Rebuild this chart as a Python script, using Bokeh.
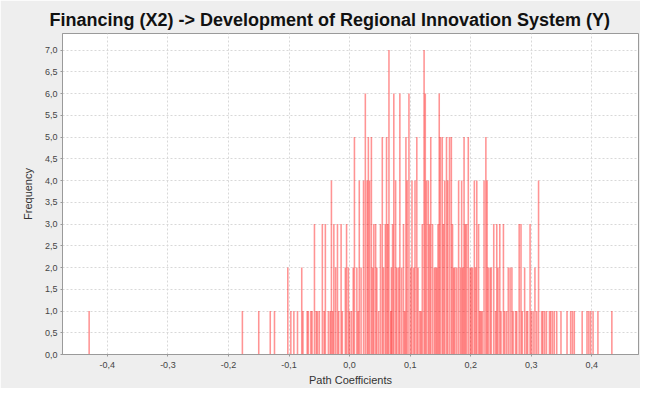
from bokeh.plotting import figure
from bokeh.models import ColumnDataSource, FixedTicker, CustomJSTickFormatter
from bokeh.embed import file_html
from bokeh.resources import INLINE

title_text = "Financing (X2) -> Development of Regional Innovation System (Y)"
x_label = "Path Coefficients"
y_label = "Frequency"

coefficients = [
    -0.430, -0.177, -0.150, -0.131, -0.124, -0.102, -0.097, -0.092, -0.086, -0.079,
    -0.077, -0.070, -0.068, -0.064, -0.062, -0.058, -0.055, -0.053, -0.050, -0.045,
    -0.042, -0.040, -0.035, -0.032, -0.030, -0.028, -0.026, -0.023, -0.020, -0.018,
    -0.014, -0.012, -0.007, -0.005, -0.002, 0.000, 0.003, 0.006, 0.008, 0.012,
    0.014, 0.016, 0.019, 0.023, 0.026, 0.029, 0.031, 0.033, 0.036, 0.038,
    0.040, 0.043, 0.045, 0.048, 0.051, 0.054, 0.056, 0.059, 0.061, 0.063,
    0.065, 0.068, 0.069, 0.071, 0.073, 0.076, 0.078, 0.081, 0.083, 0.086,
    0.089, 0.091, 0.093, 0.095, 0.098, 0.101, 0.103, 0.106, 0.108, 0.111,
    0.113, 0.116, 0.118, 0.120, 0.123, 0.125, 0.127, 0.130, 0.132, 0.134,
    0.137, 0.140, 0.142, 0.144, 0.146, 0.148, 0.150, 0.153, 0.155, 0.157,
    0.160, 0.162, 0.165, 0.168, 0.170, 0.172, 0.174, 0.177, 0.180, 0.183,
    0.185, 0.187, 0.189, 0.191, 0.193, 0.196, 0.199, 0.201, 0.203, 0.206,
    0.208, 0.210, 0.213, 0.215, 0.217, 0.219, 0.222, 0.225, 0.227, 0.229,
    0.232, 0.234, 0.238, 0.241, 0.243, 0.245, 0.248, 0.250, 0.254, 0.256,
    0.259, 0.262, 0.265, 0.268, 0.270, 0.274, 0.276, 0.280, 0.283, 0.285,
    0.289, 0.292, 0.294, 0.298, 0.300, 0.303, 0.306, 0.309, 0.312, 0.317,
    0.319, 0.322, 0.325, 0.330, 0.332, 0.335, 0.338, 0.342, 0.349, 0.359,
    0.365, 0.368, 0.371, 0.384, 0.392, 0.395, 0.398, 0.402, 0.410, 0.433,
]

frequency = [
    1, 1, 1, 1, 1, 2, 1, 1, 1, 2,
    1, 1, 1, 1, 1, 3, 1, 1, 1, 3,
    1, 3, 1, 1, 4, 1, 3, 2, 3, 1,
    3, 1, 2, 3, 2, 1, 1, 2, 5, 2,
    1, 4, 2, 4, 6, 4, 5, 4, 5, 2,
    3, 3, 2, 1, 3, 5, 2, 3, 5, 3,
    7, 1, 2, 3, 6, 4, 2, 2, 6, 2,
    3, 1, 5, 4, 6, 2, 4, 2, 4, 5,
    2, 1, 1, 3, 7, 6, 4, 4, 3, 5,
    3, 2, 2, 2, 3, 6, 5, 5, 3, 4,
    5, 4, 5, 5, 3, 2, 2, 2, 4, 2,
    4, 2, 5, 3, 3, 5, 2, 2, 2, 4,
    2, 4, 3, 1, 1, 1, 4, 5, 4, 2,
    2, 2, 3, 1, 3, 2, 3, 1, 3, 1,
    1, 2, 2, 2, 1, 1, 1, 3, 3, 1,
    2, 1, 1, 3, 1, 1, 2, 1, 4, 1,
    1, 1, 1, 1, 1, 1, 1, 1, 1, 1,
    1, 1, 1, 1, 1, 1, 1, 1, 1, 1,
]

x_ticks = [-0.4, -0.3, -0.2, -0.1, 0.0, 0.1, 0.2, 0.3, 0.4]
y_ticks = [0.0, 0.5, 1.0, 1.5, 2.0, 2.5, 3.0, 3.5, 4.0, 4.5, 5.0, 5.5, 6.0, 6.5, 7.0]

source = ColumnDataSource(data=dict(x=coefficients, top=frequency))

p = figure(
    width=640, height=388,
    output_backend="svg", toolbar_location=None,
    x_range=(-0.474, 0.477), y_range=(0, 7.38),
    background_fill_color="white", border_fill_color="#eeeeee",
    min_border_left=62, min_border_right=2, min_border_top=33, min_border_bottom=30,
)
p.outline_line_color = "#9a9a9a"
p.outline_line_width = 1

p.vbar(x="x", top="top", bottom=0, width=0.0026, source=source,
       fill_color="#ff0000", fill_alpha=0.42, line_color=None)

label_font = "Liberation Sans"
for ax in (p.xaxis[0], p.yaxis[0]):
    ax.axis_line_color = "#9a9a9a"
    ax.major_tick_line_color = "#9a9a9a"
    ax.minor_tick_line_color = None
    ax.major_tick_in = 0
    ax.major_tick_out = 2
    ax.major_label_text_font = label_font
    ax.major_label_text_font_size = "9px"
    ax.major_label_text_color = "#444444"
    ax.axis_label_text_font = label_font
    ax.axis_label_text_font_size = "11px"
    ax.axis_label_text_font_style = "normal"
    ax.axis_label_text_color = "#333333"

p.xaxis.ticker = FixedTicker(ticks=x_ticks)
p.yaxis.ticker = FixedTicker(ticks=y_ticks)
fmt = CustomJSTickFormatter(code="return tick.toFixed(1).replace('.', ',');")
p.xaxis.formatter = fmt
p.yaxis.formatter = fmt
p.xaxis.axis_label = x_label
p.yaxis.axis_label = y_label
p.xaxis.major_label_standoff = 5
p.yaxis.major_label_standoff = 3
p.xaxis.axis_label_standoff = 3
p.yaxis.axis_label_standoff = 8

p.xgrid.ticker = FixedTicker(ticks=x_ticks)
p.ygrid.ticker = FixedTicker(ticks=y_ticks)
for g in (p.xgrid[0], p.ygrid[0]):
    g.grid_line_color = "#d8d8d8"
    g.grid_line_dash = "2 2"
    g.grid_line_width = 1

p.title.text = title_text
p.title.align = "left"
p.title.offset = -13
p.title.standoff = 7
p.title.vertical_align = "bottom"
p.title.text_font = label_font
p.title.text_font_style = "bold"
p.title.text_font_size = "18px"
p.title.text_color = "#111111"

open("out.html", "w").write(file_html(p, INLINE))
